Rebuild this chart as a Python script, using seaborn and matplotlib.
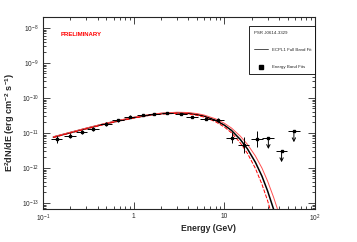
import numpy as np
import pandas as pd
import matplotlib
matplotlib.use("Agg")
import matplotlib.pyplot as plt
import matplotlib.ticker as mticker
import seaborn as sns

# Energy band fits (GeV, erg cm^-2 s^-1)
band_energy = [0.141, 0.198, 0.266, 0.356, 0.50, 0.67, 0.90, 1.26, 1.69, 2.36,
               3.30, 4.43, 6.2, 8.5, 12.0, 16.3, 22.8]
band_flux = [6.6e-12, 8.3e-12, 1.09e-11, 1.30e-11, 1.80e-11, 2.30e-11, 2.90e-11,
             3.27e-11, 3.50e-11, 3.66e-11, 3.40e-11, 2.90e-11, 2.57e-11, 2.35e-11,
             7.3e-12, 4.5e-12, 6.7e-12]
band_yerr_dex = [0.10, 0.07, 0.06, 0.06, 0.05, 0.04, 0.04, 0.03, 0.03, 0.03,
                 0.03, 0.03, 0.04, 0.05, 0.15, 0.24, 0.23]
band_half_dex = 0.065

# upper limits
ul_energy = [30.6, 42.8, 58.5]
ul_flux = [7.3e-12, 3.06e-12, 1.14e-11]

# ECPL1 full band fit
fit_energy = [0.13, 0.2, 0.3, 0.5, 0.7, 1, 1.5, 2, 3, 4, 5, 6, 8, 10, 12, 15, 18,
              22, 26, 30, 35, 40]
fit_flux = [7.6e-12, 1.02e-11, 1.34e-11, 1.86e-11, 2.26e-11, 2.73e-11, 3.26e-11,
            3.56e-11, 3.76e-11, 3.65e-11, 3.37e-11, 3.03e-11, 2.30e-11, 1.67e-11,
            1.18e-11, 6.5e-12, 3.5e-12, 1.45e-12, 5.8e-13, 2.2e-13, 6.5e-14, 2e-14]
fit_upper = [7.8e-12, 1.05e-11, 1.38e-11, 1.92e-11, 2.33e-11, 2.81e-11, 3.36e-11,
             3.67e-11, 3.91e-11, 3.83e-11, 3.57e-11, 3.24e-11, 2.53e-11, 1.89e-11,
             1.38e-11, 8.1e-12, 4.7e-12, 2.2e-12, 9.9e-13, 4.2e-13, 1.43e-13, 5e-14]
fit_lower = [7.4e-12, 9.9e-12, 1.30e-11, 1.81e-11, 2.19e-11, 2.65e-11, 3.17e-11,
             3.46e-11, 3.62e-11, 3.48e-11, 3.18e-11, 2.83e-11, 2.09e-11, 1.48e-11,
             1.01e-11, 5.2e-12, 2.6e-12, 9.7e-13, 3.4e-13, 1.16e-13, 3e-14, 8e-15]

x_ticks = [0.1, 1, 10, 100]
x_ticklabels = ["$10^{-1}$", "1", "10", "$10^{2}$"]
y_ticks = [1e-13, 1e-12, 1e-11, 1e-10, 1e-9, 1e-8]
y_ticklabels = ["$10^{-13}$", "$10^{-12}$", "$10^{-11}$", "$10^{-10}$", "$10^{-9}$", "$10^{-8}$"]

sns.set_style("ticks")
plt.rcParams["font.family"] = ["Liberation Sans", "DejaVu Sans"]
plt.rcParams["mathtext.fontset"] = "custom"
plt.rcParams["mathtext.rm"] = "Liberation Sans"
plt.rcParams["mathtext.it"] = "Liberation Sans"
plt.rcParams["mathtext.bf"] = "Liberation Sans:bold"

fig, ax = plt.subplots(figsize=(3.57, 2.42), dpi=100)
fig.subplots_adjust(left=43 / 357, right=315 / 357, bottom=1 - 209 / 242, top=1 - 17 / 242)

fit_df = pd.DataFrame({"E": fit_energy, "F": fit_flux, "up": fit_upper, "lo": fit_lower})
sns.lineplot(data=fit_df, x="E", y="F", color="black", lw=1.1, ax=ax, zorder=2)
sns.lineplot(data=fit_df, x="E", y="up", color="#ff5050", lw=0.7, ax=ax, zorder=3)
sns.lineplot(data=fit_df, x="E", y="lo", color="red", lw=0.7, ls=(0, (4, 1.5)), ax=ax,
             zorder=3)
# legend proxy for the fit line (thin grey in the reference legend)
ax.plot([], [], color="#333333", lw=0.6, label="ECPL1 Full Band Fit")

bf = np.array(band_flux)
be = np.array(band_energy)
yd = np.array(band_yerr_dex)
yerr = [bf - bf / 10 ** yd, bf * 10 ** yd - bf]
xerr = [be - be / 10 ** band_half_dex, be * 10 ** band_half_dex - be]
ax.errorbar(be, bf, xerr=xerr, yerr=yerr, fmt="s", ms=1.7, color="black",
            elinewidth=0.7, capsize=0, zorder=4)
ax.plot([], [], "s", color="black", ms=3, label="Energy Band Fits")

ue = np.array(ul_energy)
uf = np.array(ul_flux)
ax.errorbar(ue, uf, xerr=[ue - ue / 10 ** band_half_dex, ue * 10 ** band_half_dex - ue],
            fmt="s", ms=1.7, color="black", elinewidth=0.7, capsize=0, zorder=4)
for e, f in zip(ul_energy, ul_flux):
    ax.annotate("", xy=(e, f / 2.1), xytext=(e, f),
                arrowprops=dict(arrowstyle="->", color="black", lw=0.7,
                                mutation_scale=6, shrinkA=0, shrinkB=0))

ax.set_xscale("log")
ax.set_yscale("log")
ax.set_xlim(0.1, 100)
ax.set_ylim(6.7e-14, 2.06e-8)

ax.xaxis.set_major_locator(mticker.FixedLocator(x_ticks))
ax.xaxis.set_major_formatter(mticker.FixedFormatter(x_ticklabels))
ax.xaxis.set_minor_locator(mticker.LogLocator(base=10, subs=np.arange(2, 10), numticks=20))
ax.xaxis.set_minor_formatter(mticker.NullFormatter())
ax.yaxis.set_major_locator(mticker.FixedLocator(y_ticks))
ax.yaxis.set_major_formatter(mticker.FixedFormatter(y_ticklabels))
ax.yaxis.set_minor_locator(mticker.LogLocator(base=10, subs=np.arange(2, 10), numticks=20))
ax.yaxis.set_minor_formatter(mticker.NullFormatter())

ax.tick_params(which="both", direction="in", top=True, right=True, width=0.6,
               labelsize=4.8, pad=3)
ax.tick_params(which="major", length=5)
ax.tick_params(which="minor", length=2.5)
for sp in ax.spines.values():
    sp.set_linewidth(0.8)

ax.set_xlabel("Energy (GeV)", fontsize=6.2, fontweight="bold")
ax.xaxis.set_label_coords(0.61, -0.08)
ax.set_ylabel(r"E$^{\mathbf{2}}$dN/dE (erg cm$^{\mathbf{-2}}$ s$^{\mathbf{-1}}$)",
              fontsize=6.6, fontweight="bold")
ax.yaxis.set_label_coords(-0.097, 0.45)

ax.text(0.065, 0.91, "PRELIMINARY", transform=ax.transAxes, color="red",
        fontsize=4.3, fontweight="bold", va="center")

leg = ax.legend(loc="upper left", bbox_to_anchor=(0.757, 0.955, 0.243, 0.0),
                mode="expand", title="PSR J0614-3329", fontsize=3.2,
                title_fontproperties={"size": 3.2}, frameon=True, fancybox=False,
                edgecolor="black", framealpha=1, borderpad=1.1, labelspacing=3.0,
                handlelength=3.2, handletextpad=0.8, alignment="left",
                borderaxespad=0)
leg.get_frame().set_linewidth(0.6)

fig.savefig("out.png", dpi=100, facecolor="white")
